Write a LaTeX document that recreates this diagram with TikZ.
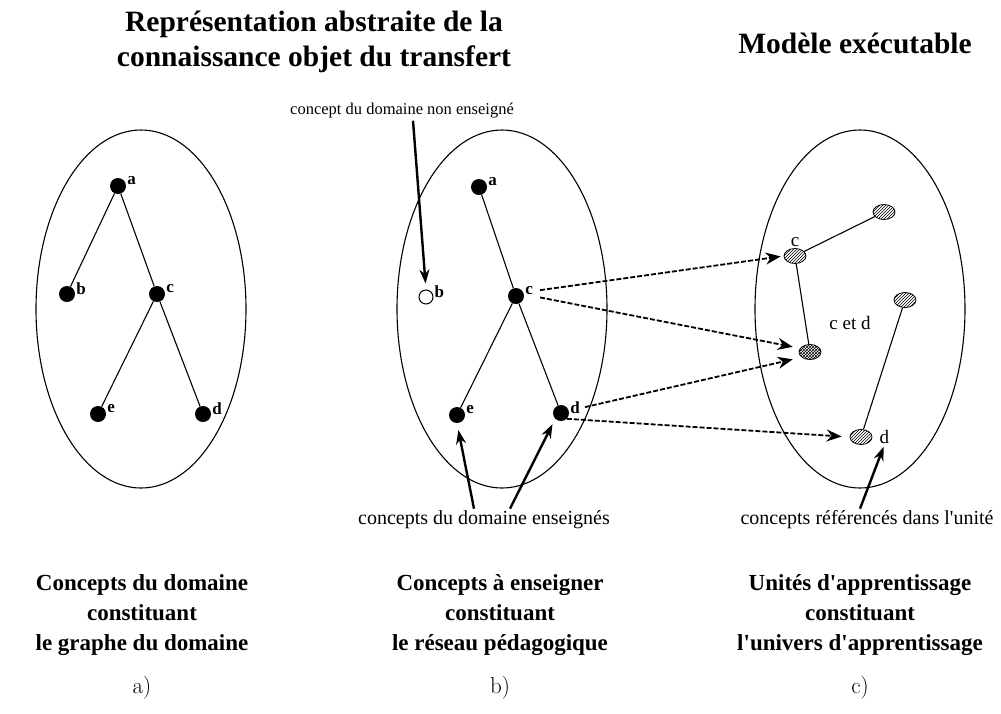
\documentclass[tikz,border=0pt]{standalone}
\usepackage{fontspec}
\newfontfamily\tms{Liberation Serif}
\usetikzlibrary{positioning,arrows.meta,calc,shapes.geometric,patterns}

\begin{document}
\begin{tikzpicture}[
    x=1pt, y=-1pt,
    setbox/.style={ellipse, draw, line width=1.1pt, minimum width=210pt, minimum height=358pt, inner sep=0pt},
    concept/.style={circle, fill=black, minimum size=16pt, inner sep=0pt},
    hidden/.style={circle, draw, line width=1pt, fill=white, minimum size=14pt, inner sep=0pt},
    unitbox/.style={ellipse, draw, line width=0.8pt, pattern=north east lines, minimum width=22pt, minimum height=15pt, inner sep=0pt},
    shared/.style={unitbox, pattern=crosshatch},
    lbl/.style={font=\tms\bfseries\fontsize{17}{17}\selectfont, inner sep=1pt},
    ulbl/.style={font=\tms\fontsize{19}{19}\selectfont, inner sep=1pt},
    titlebox/.style={font=\tms\bfseries\fontsize{29.5}{35}\selectfont, align=center},
    capbox/.style={font=\tms\bfseries\fontsize{23}{30}\selectfont, align=center},
    note/.style={font=\tms\fontsize{16.5}{20}\selectfont, inner sep=2pt},
    bignote/.style={font=\tms\fontsize{20}{22}\selectfont, inner sep=2pt},
    tagbox/.style={font=\fontsize{23}{23}\selectfont},
    link/.style={line width=1.1pt},
    arrow/.style={-{Stealth[length=14pt, width=10pt]}, line width=2.4pt},
    maparrow/.style={-{Stealth[length=15pt, width=12pt]}, line width=1.8pt, dash pattern=on 5pt off 2pt}
  ]
    \useasboundingbox (0,0) rectangle (1001,713);

    % titles
    \node[titlebox] (ttl) at (314,42) {Représentation abstraite de la\\connaissance objet du transfert};
    \node[titlebox] (ttr) at (855,43) {Modèle exécutable};

    % the three sets
    \node[setbox] (ga) at (141,309) {};
    \node[setbox] (gb) at (502,309) {};
    \node[setbox] (gc) at (860,309) {};

    % a) graphe du domaine
    \node[concept, label={[lbl,yshift=5pt]right:a}] (a1) at (118,186) {};
    \node[concept, label={[lbl,yshift=5pt]right:b}] (b1) at (67,294) {};
    \node[concept, label={[lbl,yshift=5pt]right:c}] (c1) at (157,294) {};
    \node[concept, label={[lbl,yshift=5pt]right:e}] (e1) at (98,414) {};
    \node[concept, label={[lbl,yshift=5pt]right:d}] (d1) at (203,414) {};
    \draw[link] (a1) -- (b1);
    \draw[link] (a1) -- (c1);
    \draw[link] (c1) -- (e1);
    \draw[link] (c1) -- (d1);

    % b) reseau pedagogique
    \node[concept, label={[lbl,yshift=5pt]right:a}] (a2) at (479,187) {};
    \node[hidden, label={[lbl,yshift=5pt]right:b}] (b2) at (426,297) {};
    \node[concept, label={[lbl,yshift=5pt,name=c2l]right:c}] (c2) at (516,296) {};
    \node[concept, label={[lbl,yshift=5pt]right:e}] (e2) at (457,415) {};
    \node[concept, label={[lbl,yshift=5pt,name=d2l]right:d}] (d2) at (561,413) {};
    \draw[link] (a2) -- (c2);
    \draw[link] (c2) -- (e2);
    \draw[link] (c2) -- (d2);

    % c) univers d'apprentissage
    \node[unitbox, label={[ulbl]above:c}] (uc) at (795,256) {};
    \node[unitbox] (ut) at (884,212) {};
    \node[shared] (ucd) at (810,352) {};
    \node[unitbox] (uv) at (905,300) {};
    \node[unitbox, label={[ulbl,xshift=6pt,name=udl]right:d}] (ud) at (861,437) {};
    \node[ulbl] (cetd) at (850,323) {c et d};
    \draw[link] (uc) -- (ut);
    \draw[link] (uc) -- (ucd);
    \draw[link] (uv) -- (ud);

    % correspondances
    \draw[maparrow, shorten <=6pt, shorten >=3pt] (c2l.east) -- (uc.west);
    \draw[maparrow, shorten <=6pt, shorten >=6pt] (c2l.south east) -- ([yshift=4pt]ucd.west);
    \draw[maparrow, shorten <=4pt, shorten >=6pt] (d2l.east) -- ([yshift=-6pt]ucd.west);
    \draw[maparrow, shorten >=8pt] (d2.south east) -- (ud.west);

    % annotations
    \node[note] (nb) at (402,111) {concept du domaine non enseigné};
    \node[bignote] (ne) at (484,520) {concepts du domaine enseignés};
    \node[bignote] (nr) at (867,520) {concepts référencés dans l'unité};
    \draw[arrow, shorten >=6pt] ([xshift=11pt]nb.south) -- (b2.north);
    \draw[arrow, shorten >=7pt] ([xshift=-10pt]ne.north) -- (e2.south);
    \draw[arrow, shorten >=6pt] ([xshift=26pt]ne.north) -- (d2.south west);
    \draw[arrow, shorten >=2pt] ([xshift=-7pt]nr.north) -- (udl.south);

    % legends
    \node[capbox] (capa) at (142,615) {Concepts du domaine\\constituant\\le graphe du domaine};
    \node[capbox] (capb) at (500,615) {Concepts à enseigner\\constituant\\le réseau pédagogique};
    \node[capbox] (capc) at (860,615) {Unités d'apprentissage\\constituant\\l'univers d'apprentissage};
    \node[tagbox] (taga) at (142,688) {a)};
    \node[tagbox] (tagb) at (500,688) {b)};
    \node[tagbox] (tagc) at (860,688) {c)};
\end{tikzpicture}
\end{document}
